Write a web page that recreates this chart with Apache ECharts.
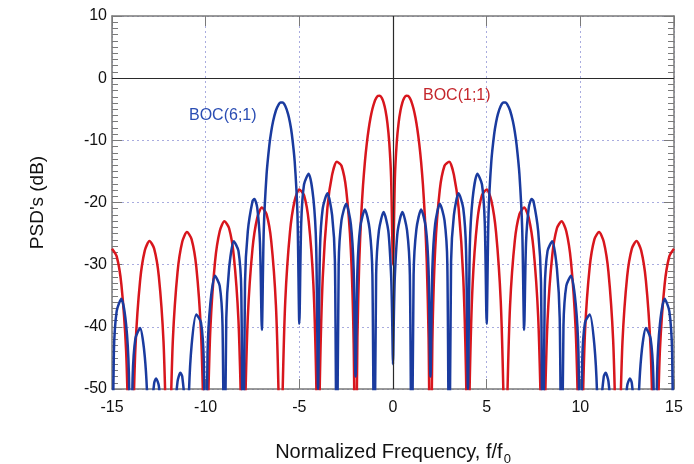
<!DOCTYPE html>
<html>
<head>
<meta charset="utf-8">
<script src="https://cdn.jsdelivr.net/npm/echarts@6/dist/echarts.min.js"></script>
<style>
  html, body { margin: 0; padding: 0; background: #fff; }
  #main { width: 694px; height: 464px; }
</style>
</head>
<body>
<div id="main"></div>
<script>
// ---------- data: [f/f0, dB]
const xTicks = [-15, -10, -5, 0, 5, 10, 15];
const yTicks = [10, 0, -10, -20, -30, -40, -50];

// BOC(1;1), red
const boc11 = [
  [-15, -27.44], [-14.75, -28.67], [-14.5, -33.17], [-14.25, -43.69], [-14.1, -59.1], [-14, -70],
  [-13.9, -59.0], [-13.75, -43.38], [-13.5, -32.55], [-13.25, -27.74], [-13, -26.2], [-12.75, -27.41], [-12.5, -31.88], [-12.25, -42.38], [-12.1, -57.8], [-12, -70],
  [-11.9, -57.65], [-11.75, -42.01], [-11.5, -31.16], [-11.25, -26.32], [-11, -24.75], [-10.75, -25.93], [-10.5, -30.37], [-10.25, -40.83], [-10.1, -56.2], [-10, -70],
  [-9.9, -56.06], [-9.75, -40.39], [-9.5, -29.5], [-9.25, -24.62], [-9, -23.01], [-8.75, -24.14], [-8.5, -28.53], [-8.25, -38.94], [-8.1, -54.3], [-8, -70],
  [-7.9, -54.1], [-7.75, -38.4], [-7.5, -27.44], [-7.25, -22.51], [-7, -20.82], [-6.75, -21.88], [-6.5, -26.2], [-6.25, -36.53], [-6.1, -51.85], [-6, -70],
  [-5.9, -51.56], [-5.75, -35.81], [-5.5, -24.75], [-5.25, -19.7], [-5, -17.9], [-4.75, -18.83], [-4.5, -23.01], [-4.25, -33.18], [-4.1, -48.4], [-4, -70],
  [-3.9, -47.96], [-3.75, -32.09], [-3.5, -20.82], [-3.25, -15.54], [-3, -13.46], [-2.75, -14.09], [-2.5, -17.9], [-2.25, -27.66], [-2.1, -42.59], [-2, -70],
  [-1.9, -41.7], [-1.8, -29.4], [-1.7, -22.26], [-1.6, -17.23], [-1.5, -13.46], [-1.4, -10.53], [-1.3, -8.21], [-1.2, -6.38], [-1.1, -4.97], [-1, -3.92],
  [-0.9, -3.22], [-0.8, -2.86], [-0.7, -2.83], [-0.6, -3.17], [-0.5, -3.92], [-0.4, -5.2], [-0.3, -7.18], [-0.2, -10.34], [-0.1, -16.15], [0, -30],
  [0.1, -16.15], [0.2, -10.34], [0.3, -7.18], [0.4, -5.2], [0.5, -3.92], [0.6, -3.17], [0.7, -2.83], [0.8, -2.86], [0.9, -3.22], [1, -3.92],
  [1.1, -4.97], [1.2, -6.38], [1.3, -8.21], [1.4, -10.53], [1.5, -13.46], [1.6, -17.23], [1.7, -22.26], [1.8, -29.4], [1.9, -41.7], [2, -70],
  [2.1, -42.59], [2.25, -27.66], [2.5, -17.9], [2.75, -14.09], [3, -13.46], [3.25, -15.54], [3.5, -20.82], [3.75, -32.09], [3.9, -47.96], [4, -70],
  [4.1, -48.4], [4.25, -33.18], [4.5, -23.01], [4.75, -18.83], [5, -17.9], [5.25, -19.7], [5.5, -24.75], [5.75, -35.81], [5.9, -51.56], [6, -70],
  [6.1, -51.85], [6.25, -36.53], [6.5, -26.2], [6.75, -21.88], [7, -20.82], [7.25, -22.51], [7.5, -27.44], [7.75, -38.4], [7.9, -54.1], [8, -70],
  [8.1, -54.3], [8.25, -38.94], [8.5, -28.53], [8.75, -24.14], [9, -23.01], [9.25, -24.62], [9.5, -29.5], [9.75, -40.39], [9.9, -56.06], [10, -70],
  [10.1, -56.2], [10.25, -40.83], [10.5, -30.37], [10.75, -25.93], [11, -24.75], [11.25, -26.32], [11.5, -31.16], [11.75, -42.01], [11.9, -57.65], [12, -70],
  [12.1, -57.8], [12.25, -42.38], [12.5, -31.88], [12.75, -27.41], [13, -26.2], [13.25, -27.74], [13.5, -32.55], [13.75, -43.38], [13.9, -59.0], [14, -70],
  [14.1, -59.1], [14.25, -43.69], [14.5, -33.17], [14.75, -28.67], [15, -27.44]
];

// BOC(6;1), blue
const boc61 = [
  [-15, -70], [-14.9, -44.06], [-14.75, -37.47], [-14.5, -35.47], [-14.25, -39.53], [-14.1, -47.38], [-14, -70],
  [-13.9, -48.3], [-13.75, -41.86], [-13.5, -40.2], [-13.25, -44.78], [-13.1, -53.06], [-13, -70],
  [-12.9, -54.75], [-12.75, -49.09], [-12.65, -48.3], [-12.5, -49.49], [-12.25, -58.39], [-12, -80],
  [-11.75, -58.02], [-11.5, -48.77], [-11.35, -47.4], [-11.25, -48.0], [-11.1, -53.44], [-11, -70],
  [-10.9, -51.46], [-10.75, -42.96], [-10.5, -38.02], [-10.25, -39.31], [-10.1, -45.53], [-10, -70],
  [-9.9, -44.31], [-9.75, -36.23], [-9.5, -31.8], [-9.25, -33.42], [-9.1, -39.78], [-9, -70],
  [-8.9, -38.68], [-8.75, -30.65], [-8.5, -26.23], [-8.25, -27.78], [-8.1, -34.06], [-8, -70],
  [-7.9, -32.8], [-7.75, -24.6], [-7.5, -19.79], [-7.4, -19.44], [-7.25, -20.78], [-7.1, -26.6], [-7, -40.5],
  [-6.9, -24.53], [-6.75, -15.51], [-6.6, -10.76], [-6.5, -8.59], [-6.4, -6.94], [-6.25, -5.2], [-6.1, -4.21], [-6, -3.93],
  [-5.9, -3.92], [-5.75, -4.48], [-5.6, -5.78], [-5.5, -7.14], [-5.4, -9.02], [-5.25, -13.33], [-5.1, -21.9], [-5, -39.5],
  [-4.9, -23.38], [-4.75, -17.11], [-4.5, -15.36], [-4.25, -19.38], [-4.1, -27.1], [-4, -50],
  [-3.9, -27.71], [-3.75, -20.93], [-3.5, -18.52], [-3.25, -22.05], [-3.1, -29.52], [-3, -70],
  [-2.9, -29.85], [-2.75, -22.88], [-2.5, -20.2], [-2.25, -23.5], [-2.1, -30.84], [-2, -48],
  [-1.9, -31.02], [-1.75, -23.95], [-1.5, -21.12], [-1.25, -24.27], [-1.1, -31.54], [-1, -70],
  [-0.9, -31.62], [-0.75, -24.48], [-0.5, -21.53], [-0.25, -24.58], [-0.1, -31.78], [-0.05, -37.7], [0, -46],
  [0.05, -37.7], [0.1, -31.78], [0.25, -24.58], [0.5, -21.53], [0.75, -24.48], [0.9, -31.62], [1, -70],
  [1.1, -31.54], [1.25, -24.27], [1.5, -21.12], [1.75, -23.95], [1.9, -31.02], [2, -48],
  [2.1, -30.84], [2.25, -23.5], [2.5, -20.2], [2.75, -22.88], [2.9, -29.85], [3, -70],
  [3.1, -29.52], [3.25, -22.05], [3.5, -18.52], [3.75, -20.93], [3.9, -27.71], [4, -50],
  [4.1, -27.1], [4.25, -19.38], [4.5, -15.36], [4.75, -17.11], [4.9, -23.38], [5, -39.5],
  [5.1, -21.9], [5.25, -13.33], [5.4, -9.02], [5.5, -7.14], [5.6, -5.78], [5.75, -4.48], [5.9, -3.92],
  [6, -3.93], [6.1, -4.21], [6.25, -5.2], [6.4, -6.94], [6.5, -8.59], [6.6, -10.76], [6.75, -15.51], [6.9, -24.53], [7, -40.5],
  [7.1, -26.6], [7.25, -20.78], [7.4, -19.44], [7.5, -19.79], [7.75, -24.6], [7.9, -32.8], [8, -70],
  [8.1, -34.06], [8.25, -27.78], [8.5, -26.23], [8.75, -30.65], [8.9, -38.68], [9, -70],
  [9.1, -39.78], [9.25, -33.42], [9.5, -31.8], [9.75, -36.23], [9.9, -44.31], [10, -70],
  [10.1, -45.53], [10.25, -39.31], [10.5, -38.02], [10.75, -42.96], [10.9, -51.46], [11, -70],
  [11.1, -53.44], [11.25, -48.0], [11.35, -47.4], [11.5, -48.77], [11.75, -58.02], [12, -80],
  [12.25, -58.39], [12.5, -49.49], [12.65, -48.3], [12.75, -49.09], [12.9, -54.75], [13, -70],
  [13.1, -53.06], [13.25, -44.78], [13.5, -40.2], [13.75, -41.86], [13.9, -48.3], [14, -70],
  [14.1, -47.38], [14.25, -39.53], [14.5, -35.47], [14.75, -37.47], [14.9, -44.06], [15, -70]
];

// ---------- chart
var myChart = echarts.init(document.getElementById("main"));

var frameColor = "#7a7a7a";
var gridLine = { show: true, lineStyle: { color: "#a9acdf", type: [2, 3], width: 1 } };
var font = "Liberation Sans, Arial, sans-serif";

var option = {
  animation: false,
  backgroundColor: "#fff",
  grid: { left: 112, right: 20, top: 16, bottom: 75, containLabel: false, outerBoundsMode: "none" },
  xAxis: [
    {
      type: "value", min: xTicks[0], max: xTicks[xTicks.length - 1], interval: 5,
      position: "bottom",
      name: "{a|Normalized Frequency, f/f}{s|0}",
      nameLocation: "middle", nameGap: 50,
      nameTextStyle: {
        rich: {
          a: { fontSize: 20, color: "#111", fontFamily: font },
          s: { fontSize: 13, color: "#111", fontFamily: font, padding: [14, 0, 0, 1] }
        }
      },
      axisLine: { show: true, onZero: false, lineStyle: { color: frameColor, width: 1.5 } },
      axisTick: { show: true, inside: true, length: 10, lineStyle: { color: frameColor } },
      axisLabel: { fontSize: 16, color: "#111", fontFamily: font, margin: 11 },
      splitLine: gridLine
    },
    {
      type: "value", min: xTicks[0], max: xTicks[xTicks.length - 1], interval: 5,
      position: "top",
      axisLine: { show: true, onZero: false, lineStyle: { color: frameColor, width: 1.5 } },
      axisTick: { show: true, inside: true, length: 10, lineStyle: { color: frameColor } },
      axisLabel: { show: false },
      splitLine: { show: false }
    }
  ],
  yAxis: [
    {
      type: "value", min: yTicks[yTicks.length - 1], max: yTicks[0], interval: 10,
      position: "left",
      name: "PSD's (dB)", nameLocation: "middle", nameGap: 65,
      nameTextStyle: { fontSize: 19, color: "#111", fontFamily: font },
      axisLine: { show: true, onZero: false, lineStyle: { color: frameColor, width: 1.5 } },
      axisTick: { show: true, inside: true, length: 10, lineStyle: { color: frameColor } },
      minorTick: { show: true, splitNumber: 10, length: 6, lineStyle: { color: frameColor } },
      axisLabel: { fontSize: 16, color: "#111", fontFamily: font, margin: 5 },
      splitLine: gridLine
    },
    {
      type: "value", min: yTicks[yTicks.length - 1], max: yTicks[0], interval: 10,
      position: "right",
      axisLine: { show: true, onZero: false, lineStyle: { color: frameColor, width: 1.5 } },
      axisTick: { show: true, inside: true, length: 10, lineStyle: { color: frameColor } },
      minorTick: { show: true, splitNumber: 10, length: 6, lineStyle: { color: frameColor } },
      axisLabel: { show: false },
      splitLine: { show: false }
    }
  ],
  series: [
    {
      name: "BOC(1;1)", type: "line", data: boc11,
      showSymbol: false, smooth: 0.25, clip: true,
      lineStyle: { color: "#d8161d", width: 2.5 },
      markLine: {
        silent: true, symbol: "none", animation: false,
        label: { show: false },
        lineStyle: { color: "#2a2a2a", type: "solid", width: 1.2 },
        data: [{ xAxis: 0 }, { yAxis: 0 }]
      }
    },
    {
      name: "BOC(6;1)", type: "line", data: boc61,
      showSymbol: false, smooth: 0.25, clip: true,
      lineStyle: { color: "#1a3b9f", width: 2.5 }
    }
  ],
  graphic: [
    { type: "text", left: 189, top: 108, style: { text: "BOC(6;1)", fill: "#2a4db3", font: "16px " + font } },
    { type: "text", left: 423, top: 88, style: { text: "BOC(1;1)", fill: "#c4262c", font: "16px " + font } }
  ]
};

myChart.setOption(option);
</script>
</body>
</html>
